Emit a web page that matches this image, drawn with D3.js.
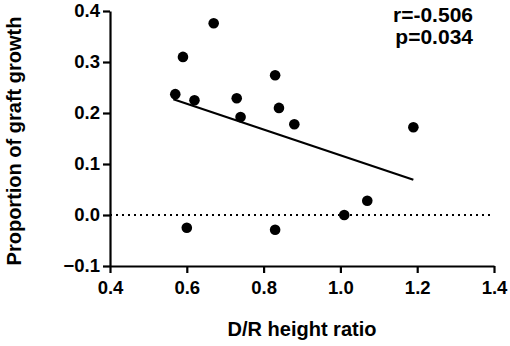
<!DOCTYPE html>
<html>
<head>
<meta charset="UTF-8">
<title>Graft growth vs D/R height ratio</title>
<script src="https://d3js.org/d3.v7.min.js"></script>
<style>
  body { margin: 0; background: #fff; }
  text { font-family: Arial, "Liberation Sans", sans-serif; font-weight: bold; }
</style>
</head>
<body>
<svg id="plot"></svg>
<script>
  // data
  const ratio  = [0.57, 0.59, 0.62, 0.67, 0.73, 0.74, 0.83, 0.84, 0.88, 1.19, 0.60, 0.83, 1.01, 1.07];
  const growth = [0.237, 0.310, 0.225, 0.376, 0.229, 0.192, 0.274, 0.210, 0.178, 0.172, -0.025, -0.029, 0.000, 0.028];
  // fitted line end points
  const fitX = [0.565, 1.19];
  const fitY = [0.227, 0.069];
  const xTicks = [0.4, 0.6, 0.8, 1.0, 1.2, 1.4];
  const yTicks = [-0.1, 0.0, 0.1, 0.2, 0.3, 0.4];
  const stats = ["r=-0.506", "p=0.034"];

  const width = 510, height = 346;

  const svg = d3.select("#plot")
      .attr("width", width)
      .attr("height", height);

  const x = d3.scaleLinear().domain([0.4, 1.4]).range([110, 494]);
  const y = d3.scaleLinear().domain([-0.1, 0.4]).range([266, 11]);

  // dotted zero line
  svg.append("line")
      .attr("x1", x(0.4)).attr("x2", x(1.4))
      .attr("y1", y(0)).attr("y2", y(0))
      .attr("stroke", "#000")
      .attr("stroke-width", 2)
      .attr("stroke-dasharray", "2,4");

  const xAxis = svg.append("g")
      .attr("transform", "translate(0," + y(-0.1) + ")")
      .call(d3.axisBottom(x).tickValues(xTicks).tickFormat(d3.format(".1f")).tickSize(7).tickSizeOuter(0).tickPadding(8));

  const yAxis = svg.append("g")
      .attr("transform", "translate(" + x(0.4) + ",0)")
      .call(d3.axisLeft(y).tickValues(yTicks).tickFormat(d3.format(".1f")).tickSize(7).tickSizeOuter(0).tickPadding(3));

  [xAxis, yAxis].forEach(function(a) {
    a.select(".domain").attr("stroke-width", 2.2);
    a.selectAll(".tick line").attr("stroke-width", 2.2);
    a.selectAll(".tick text")
      .attr("fill", "#000")
      .style("font-size", "18.5px")
      .style("font-family", "Arial, 'Liberation Sans', sans-serif")
      .style("font-weight", "bold");
  });

  // regression line
  svg.append("line")
      .attr("x1", x(fitX[0])).attr("y1", y(fitY[0]))
      .attr("x2", x(fitX[1])).attr("y2", y(fitY[1]))
      .attr("stroke", "#000")
      .attr("stroke-width", 2.2);

  // points
  svg.append("g")
    .selectAll("circle")
    .data(ratio)
    .enter()
    .append("circle")
      .attr("cx", function(d) { return x(d); })
      .attr("cy", function(d, i) { return y(growth[i]); })
      .attr("r", 5.3)
      .attr("fill", "#000");

  // stats
  svg.selectAll(".stat")
    .data(stats)
    .enter()
    .append("text")
      .attr("class", "stat")
      .attr("x", 473)
      .attr("y", function(d, i) { return 22 + i * 22; })
      .attr("text-anchor", "end")
      .style("font-size", "21px")
      .text(function(d) { return d; });

  // axis titles
  svg.append("text")
      .attr("x", 302)
      .attr("y", 336)
      .attr("text-anchor", "middle")
      .style("font-size", "20px")
      .text("D/R height ratio");

  svg.append("text")
      .attr("transform", "translate(21,141) rotate(-90)")
      .attr("text-anchor", "middle")
      .style("font-size", "20px")
      .text("Proportion of graft growth");
</script>
</body>
</html>
